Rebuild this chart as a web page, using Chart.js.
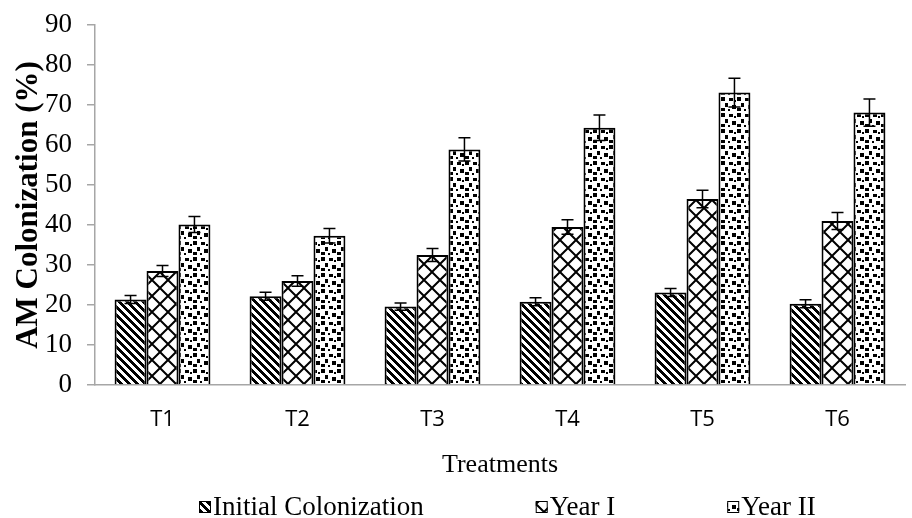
<!DOCTYPE html>
<html>
<head>
<meta charset="utf-8">
<script src="https://cdn.jsdelivr.net/npm/chart.js@4.4.0/dist/chart.umd.min.js"></script>
<style>
  html, body { margin: 0; padding: 0; background: #fff; }
  #wrap { width: 912px; height: 518px; }
</style>
</head>
<body>
<div id="wrap"><canvas id="chart" width="912" height="518"></canvas></div>
<script>
const treatments = ["T1", "T2", "T3", "T4", "T5", "T6"];
const initialColonization = [21.4, 22.2, 19.6, 20.8, 23.1, 20.3];
const yearOne = [28.5, 26.0, 32.5, 39.5, 46.5, 41.0];
const yearTwo = [40.1, 37.3, 58.9, 64.3, 73.1, 68.1];
const initialErr = [1.0, 1.0, 0.9, 1.0, 1.0, 1.0];
const yearOneErr = [1.4, 1.3, 1.6, 1.8, 2.2, 2.1];
const yearTwoErr = [2.0, 1.8, 2.9, 3.2, 3.6, 3.4];
const seriesNames = ["Initial Colonization", "Year I", "Year II"];
const yTicks = [0, 10, 20, 30, 40, 50, 60, 70, 80, 90];

// pattern tiles (Excel-like hatch fills)
function makeTile(size, draw) {
  let c = document.createElement("canvas");
  c.width = size; c.height = size;
  let g = c.getContext("2d");
  g.fillStyle = "#fff";
  g.fillRect(0, 0, size, size);
  g.fillStyle = "#000";
  draw(g, size);
  return document.createElement("canvas").getContext("2d").createPattern(c, "repeat");
}

const stripes = makeTile(8, (g, s) => {
  for (let y = 0; y < s; y++) {
    for (let x = 0; x < s; x++) {
      if (((x - y) % s + s) % s < 4) g.fillRect(x, y, 1, 1);
    }
  }
});

const lattice = makeTile(16, (g, s) => {
  g.strokeStyle = "#000";
  g.lineWidth = 2;
  g.beginPath();
  g.moveTo(0, 0); g.lineTo(s, s);
  g.moveTo(s, 0); g.lineTo(0, s);
  g.stroke();
});

const confetti = makeTile(16, (g) => {
  g.fillRect(1, 1, 4, 4);
  g.fillRect(9, 2, 4, 3);
  g.fillRect(5, 7, 3, 4);
  g.fillRect(12, 9, 4, 4);
  g.fillRect(1, 12, 4, 3);
  g.fillRect(8, 13, 2, 2);
  g.fillRect(14, 4, 2, 2);
});

const fills = [stripes, lattice, confetti];
const errs = [initialErr, yearOneErr, yearTwoErr];

const errorBars = {
  id: "errorBars",
  afterDatasetsDraw(chart) {
    let ctx = chart.ctx;
    let y = chart.scales.y;
    ctx.save();
    ctx.strokeStyle = "#000";
    ctx.lineWidth = 1.5;
    chart.data.datasets.forEach((ds, i) => {
      let meta = chart.getDatasetMeta(i);
      meta.data.forEach((bar, j) => {
        let v = ds.data[j];
        let e = errs[i][j];
        let yHi = y.getPixelForValue(v + e);
        let yLo = y.getPixelForValue(v - e);
        ctx.beginPath();
        ctx.moveTo(bar.x, yHi); ctx.lineTo(bar.x, yLo);
        ctx.moveTo(bar.x - 6, yHi); ctx.lineTo(bar.x + 6, yHi);
        ctx.moveTo(bar.x - 6, yLo); ctx.lineTo(bar.x + 6, yLo);
        ctx.stroke();
      });
    });
    ctx.restore();
  }
};

const bottomLegend = {
  id: "bottomLegend",
  afterDraw(chart) {
    let ctx = chart.ctx;
    ctx.save();
    ctx.font = "27px 'Liberation Serif'";
    ctx.textBaseline = "middle";
    let x = 199, yMid = 507;
    seriesNames.forEach((name, i) => {
      ctx.fillStyle = fills[i];
      ctx.fillRect(x, yMid - 6, 12, 12);
      ctx.strokeStyle = "#000";
      ctx.lineWidth = 1;
      ctx.strokeRect(x + 0.5, yMid - 5.5, 11, 11);
      ctx.fillStyle = "#000";
      ctx.fillText(name, x + 14, yMid + 1);
      x += 14 + ctx.measureText(name).width + 112;
    });
    ctx.restore();
  }
};

let ctx = document.getElementById("chart").getContext("2d");
new Chart(ctx, {
  type: "bar",
  data: {
    labels: treatments,
    datasets: [
      { label: seriesNames[0], data: initialColonization },
      { label: seriesNames[1], data: yearOne },
      { label: seriesNames[2], data: yearTwo },
    ].map((d, i) => Object.assign(d, {
      backgroundColor: fills[i],
      borderColor: "#000",
      borderWidth: 2,
      categoryPercentage: 0.71,
      barPercentage: 1.0,
    })),
  },
  options: {
    responsive: false,
    animation: false,
    layout: { padding: { top: 25, right: 7, left: 0, bottom: 33 } },
    plugins: {
      legend: { display: false },
      tooltip: { enabled: false },
    },
    scales: {
      x: {
        grid: { display: false, drawTicks: false },
        border: { display: true, color: "#a6a6a6", width: 1.5 },
        ticks: { color: "#000", font: { family: "'Open Sans'", size: 22 }, padding: 22 },
        title: {
          display: true, text: "Treatments", color: "#000",
          font: { family: "'Liberation Serif'", size: 26 },
          padding: { top: 0, bottom: 4 },
        },
        afterFit(scale) { scale.height = 100; },
      },
      y: {
        min: 0, max: 90,
        afterBuildTicks(scale) { scale.ticks = yTicks.map(v => ({ value: v })); },
        grid: { display: true, drawOnChartArea: false, drawTicks: true, tickLength: 8, color: "#a6a6a6", lineWidth: 1.5 },
        border: { display: true, color: "#a6a6a6", width: 1.5 },
        ticks: { color: "#000", font: { family: "'Liberation Serif'", size: 27 }, padding: 15 },
        title: {
          display: true, text: "AM Colonization (%)", color: "#000",
          font: { family: "'Liberation Serif'", size: 31, weight: "bold" },
          padding: { top: 10, bottom: 0 },
        },
        afterFit(scale) {
          scale.width = 95;
          scale.paddingTop = 0;
          scale.paddingBottom = 0;
        },
      },
    },
  },
  plugins: [errorBars, bottomLegend],
});
</script>
</body>
</html>
